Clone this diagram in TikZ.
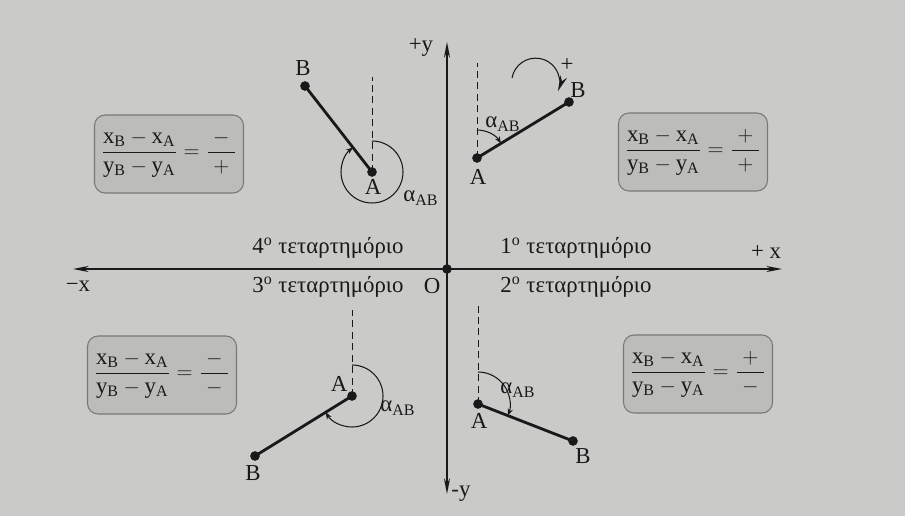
\documentclass[tikz,border=0pt]{standalone}
\usepackage{amsmath}
\usepackage{fontspec}
\setmainfont{Liberation Serif}
\usetikzlibrary{arrows.meta, calc}
\definecolor{Paper}{RGB}{202,202,200}
\definecolor{BoxFill}{RGB}{188,188,186}
\definecolor{BoxLine}{RGB}{120,120,120}
\definecolor{Ink}{RGB}{25,25,25}
\newcommand{\signfrac}[2]{$\dfrac{\mathrm{x_B}-\mathrm{x_A}}{\mathrm{y_B}-\mathrm{y_A}}=\dfrac{\makebox[1.2em]{$#1$}}{\makebox[1.2em]{$#2$}}$}
\newcommand{\aab}{α\textsubscript{AB}}

\begin{document}
\begin{tikzpicture}[
  x=0.02cm, y=0.02cm,
  every node/.style={font=\fontsize{13}{15}\selectfont, text=Ink},
  formula/.style={draw=BoxLine, fill=BoxFill, rounded corners=6pt, line width=0.6pt,
                  minimum width=2.98cm, minimum height=1.56cm, inner sep=2pt},
  axis/.style={{Stealth[length=9pt, width=3.5pt]}-{Stealth[length=9pt, width=3.5pt]},
               line width=0.7pt, draw=Ink},
  seg/.style={line width=1.6pt, draw=Ink},
  guide/.style={dash pattern=on 4pt off 2.5pt, line width=0.5pt, draw=Ink},
  sweep/.style={-{Stealth[length=4pt, width=3pt]}, line width=0.6pt, draw=Ink},
  turn/.style={-{Stealth[length=9pt, width=4pt]}, line width=0.6pt, draw=Ink},
  dot/.style={circle, fill=Ink, inner sep=0pt, minimum size=5.5pt}
]
  \fill[Paper] (0,0) rectangle (905,-516);
  \useasboundingbox (0,0) rectangle (905,-516);

  % axes
  \coordinate (xl) at (73,-269);
  \coordinate (xr) at (782,-269);
  \coordinate (yt) at (447,-42);
  \coordinate (yb) at (447,-494);
  \draw[axis] (xl) -- (xr);
  \draw[axis] (yb) -- (yt);
  \node[dot] (O) at (447,-269) {};

  \node (ypos) at (421,-48) {+y};
  \node (yneg) at (461,-494) {-y};
  \node (xneg) at (78,-286) {−x};
  \node (xpos) at (766,-252) {+ x};
  \node (olab) at (432,-286) {O};

  \node (q4) at (328,-248) {4\textsuperscript{o} τεταρτημόριο};
  \node (q3) at (328,-287) {3\textsuperscript{o} τεταρτημόριο};
  \node (q1) at (576,-248) {1\textsuperscript{o} τεταρτημόριο};
  \node (q2) at (576,-287) {2\textsuperscript{o} τεταρτημόριο};

  % sign boxes
  \node[formula] (f4) at (169,-154) {\signfrac{-}{+}};
  \node[formula] (f1) at (693,-152) {\signfrac{+}{+}};
  \node[formula] (f3) at (162,-375) {\signfrac{-}{-}};
  \node[formula] (f2) at (698,-374) {\signfrac{+}{-}};

  % 1st quadrant
  \node[dot] (A1) at (477,-158) {};
  \node[dot] (B1) at (569,-102) {};
  \coordinate (N1) at (477,-63);
  \draw[guide] (A1.center) -- (N1);
  \draw[seg] (A1.center) -- (B1.center);
  \draw[sweep] ($(A1)+(0,28)$) arc[start angle=90, end angle=31.3, radius=28];
  \node (a1) at (478,-177) {A};
  \node (b1) at (578,-90) {B};
  \node (al1) at (503,-124) {\aab};
  \draw[turn] (512,-78) arc[start angle=170, end angle=-22, radius=24];
  \node (plus) at (567,-65) {+};

  % 4th quadrant
  \node[dot] (A4) at (372,-172) {};
  \node[dot] (B4) at (305,-86) {};
  \coordinate (N4) at (372,-77);
  \draw[guide] (A4.center) -- (N4);
  \draw[seg] (A4.center) -- (B4.center);
  \draw[sweep] ($(A4)+(0,31)$) arc[start angle=90, end angle=-232.1, radius=31];
  \node (a4) at (373,-187) {A};
  \node (b4) at (303,-68) {B};
  \node (al4) at (421,-198) {\aab};

  % 3rd quadrant
  \node[dot] (A3) at (352,-396) {};
  \node[dot] (B3) at (255,-456) {};
  \coordinate (N3) at (352,-310);
  \draw[guide] (A3.center) -- (N3);
  \draw[seg] (A3.center) -- (B3.center);
  \draw[sweep] ($(A3)+(0,31)$) arc[start angle=90, end angle=-148.3, radius=31];
  \node (a3) at (339,-384) {A};
  \node (b3) at (253,-473) {B};
  \node (al3) at (398,-408) {\aab};

  % 2nd quadrant
  \node[dot] (A2) at (478,-404) {};
  \node[dot] (B2) at (573,-441) {};
  \coordinate (N2) at (478,-305);
  \draw[guide] (A2.center) -- (N2);
  \draw[seg] (A2.center) -- (B2.center);
  \draw[sweep] ($(A2)+(0,32)$) arc[start angle=90, end angle=-21.3, radius=32];
  \node (a2) at (479,-421) {A};
  \node (b2) at (583,-456) {B};
  \node (al2) at (518,-390) {\aab};
\end{tikzpicture}
\end{document}
